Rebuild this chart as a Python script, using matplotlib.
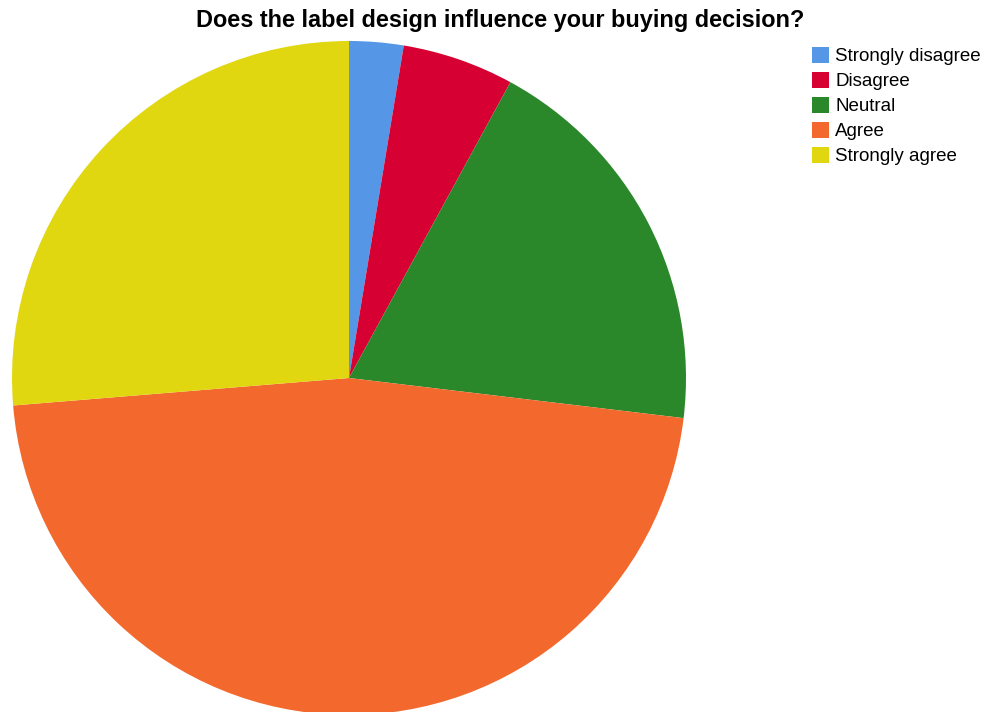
import matplotlib.pyplot as plt

labels = ['Strongly disagree', 'Disagree', 'Neutral', 'Agree', 'Strongly agree']
shares = [2.6, 5.35, 18.95, 46.8, 26.3]
colors = ['#5596E6', '#D60032', '#2A882A', '#F3692D', '#E1D710']

plt.rcParams['font.family'] = ['Liberation Sans', 'DejaVu Sans']

fig = plt.figure(figsize=(9.87, 7.12), dpi=100)
# square axes holding the pie (pixels: x 12-686, y 41-715 from top)
ax = fig.add_axes([12 / 987, -3 / 712, 674 / 987, 674 / 712])
wedges, _ = ax.pie(shares, colors=colors, startangle=90, counterclock=False,
                   radius=1, wedgeprops=dict(linewidth=0, antialiased=True))
ax.set_xlim(-1, 1)
ax.set_ylim(-1, 1)
ax.set_aspect('equal')
ax.axis('off')

fig.text(500 / 987, 1 - 21 / 712, 'Does the label design influence your buying decision?',
         ha='center', va='center', fontsize=16.9, fontweight='bold')

fig.legend(wedges, labels, loc='upper left', bbox_to_anchor=(812 / 987, 1 - 47 / 712),
           frameon=False, fontsize=13.5, handlelength=0.9, handleheight=0.9,
           handletextpad=0.33, labelspacing=0.36, borderaxespad=0, borderpad=0)

fig.savefig('out.png', dpi=100)
